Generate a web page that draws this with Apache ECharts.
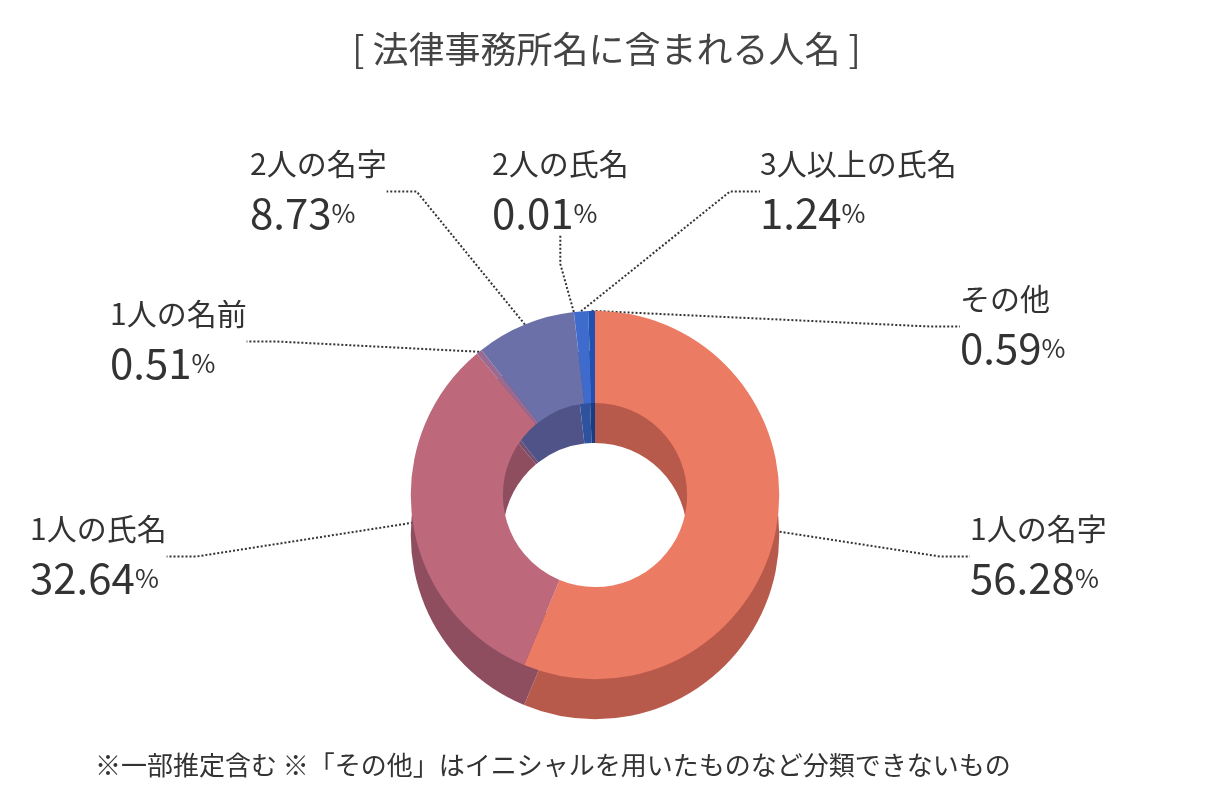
<!DOCTYPE html>
<html><head><meta charset="utf-8">
<script src="https://cdn.jsdelivr.net/npm/echarts@6/dist/echarts.min.js"></script>
<style>html,body{margin:0;background:#fff}#c{width:1213px;height:801px}</style></head>
<body><div id="c"></div>
<script>
const names=['1人の名字','1人の氏名','1人の名前','2人の名字','2人の氏名','3人以上の氏名','その他'];
const values=[56.28,32.64,0.51,8.73,0.01,1.24,0.59];
const topColors=['#ec7b63','#bd687b','#9a6a93','#6c70a9','#5a6fbf','#3f6ccc','#1f52b0'];
const sideColors=['#b85a4b','#8f4e60','#754e70','#4f5388','#44559a','#2f529e','#173d85'];
const labelPos=[[970,550],[30,550],[110,335],[250,185],[492,185],[760,185],[960,320]];
const font='Noto Sans CJK JP';
const data=names.map((n,i)=>({name:n,value:values[i],itemStyle:{color:topColors[i]}}));
const side=names.map((n,i)=>({name:n,value:values[i],itemStyle:{color:sideColors[i]}}));
const chart=echarts.init(document.getElementById('c'));
chart.setOption({
  title:{text:'[ 法律事務所名に含まれる人名 ]',left:'center',top:26,textStyle:{fontFamily:font,fontSize:36,fontWeight:'normal',color:'#444'}},
  graphic:[{type:'text',left:95,top:752,style:{text:'※一部推定含む ※「その他」はイニシャルを用いたものなど分類できないもの',fontFamily:font,fontSize:26,fill:'#333'}}],
  series:[
    {type:'pie',silent:true,center:[595,535],radius:['23%','46%'],startAngle:90,clockwise:true,data:side,label:{show:false},labelLine:{show:false}},
    {type:'pie',center:[595,495],radius:['23%','46%'],startAngle:90,clockwise:true,data:data,
     label:{show:true,fontFamily:font,color:'#333',
       formatter:p=>'{n|'+p.name+'}\n{v|'+p.value.toFixed(2)+'}{p|%}',
       rich:{n:{fontFamily:font,fontSize:30,color:'#333',lineHeight:56},v:{fontFamily:font,fontSize:42,color:'#333'},p:{fontFamily:font,fontSize:26,color:'#333'}}},
     labelLine:{show:true,lineStyle:{type:'dotted',color:'#333',width:2}},
     labelLayout:p=>({x:labelPos[p.dataIndex][0],y:labelPos[p.dataIndex][1],align:'left',verticalAlign:'middle'})}
  ]
});
</script></body></html>
